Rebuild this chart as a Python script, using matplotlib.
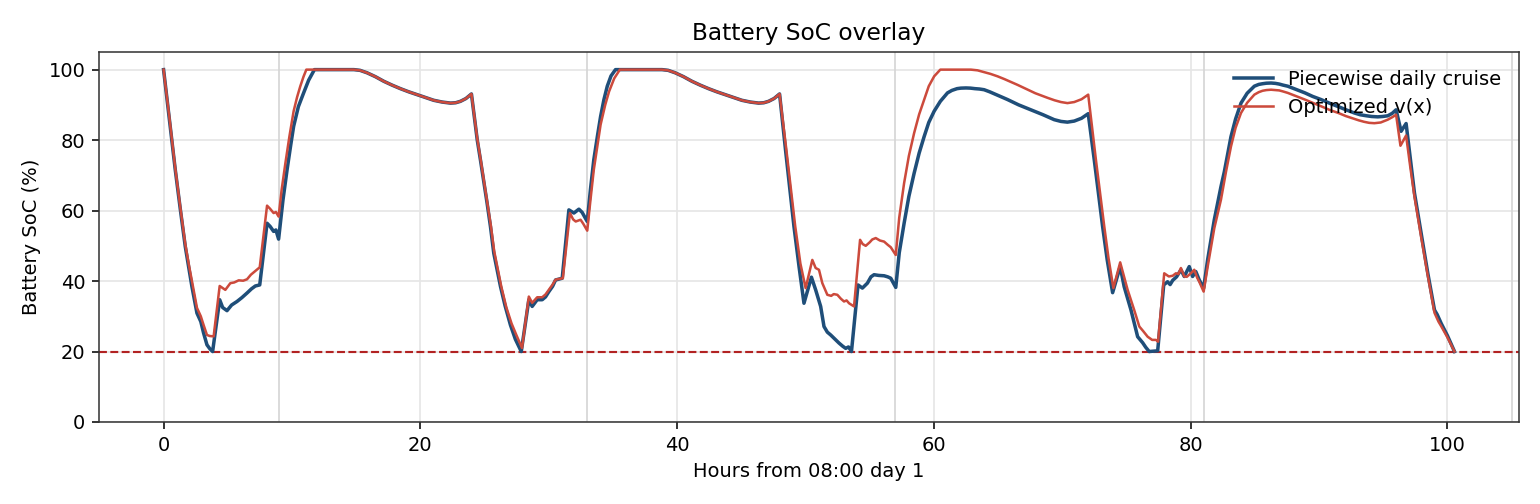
import matplotlib
matplotlib.use("Agg")
import matplotlib.pyplot as plt

# hours from 08:00 day 1 and battery SoC (%) for the piecewise daily cruise
t_piecewise = [0, 0.45, 0.91, 1.3, 1.69, 2.0, 2.21, 2.6, 2.9, 3.12, 3.38, 3.6, 3.82,
               4.37, 4.6, 4.94, 5.3, 5.72, 6.1, 6.5, 6.85, 7.15, 7.49, 8.06, 8.3, 8.57, 8.75, 8.96,
               9.3, 9.62, 9.9, 10.13, 10.5, 10.91, 11.3, 11.75, 14.82, 15.3, 15.85, 16.5, 17.15, 17.8,
               18.45, 19.1, 19.75, 20.4, 21.04, 21.7, 22.35, 22.75, 23.12, 23.55, 23.98,
               24.43, 24.68, 25.2, 25.46, 25.72, 26.24, 26.6, 27.02, 27.4, 27.86,
               28.45, 28.71, 29.1, 29.49, 29.75, 30.01, 30.3, 30.53, 31.05, 31.57, 31.96, 32.35, 32.6, 33.0,
               33.25, 33.51, 33.8, 34.04, 34.3, 34.56, 34.85, 35.2, 38.82, 39.3, 39.85, 40.5, 41.15, 41.8,
               42.45, 43.1, 43.75, 44.4, 45.04, 45.7, 46.35, 46.75, 47.12, 47.55, 47.98,
               48.45, 49.1, 49.5, 49.88, 50.46, 50.79, 51.18, 51.44, 51.7, 51.96, 52.3, 52.61, 52.9, 53.13,
               53.35, 53.58, 54.09, 54.43, 54.82, 55.1, 55.34, 55.7, 56.12, 56.4, 56.64, 57.03,
               57.3, 57.68, 58.05, 58.46, 58.85, 59.24, 59.6, 60.02, 60.5, 61.06, 61.4, 61.8, 62.1, 62.5,
               62.85, 63.2, 63.55, 63.91, 64.35, 64.8, 65.3, 65.74, 66.6, 67.55, 68.5, 69.37, 69.9, 70.4,
               70.93, 71.5, 72.02,
               72.49, 73.14, 73.5, 73.92, 74.51, 74.82, 75.35, 75.87, 76.26, 76.5, 76.77, 77.43,
               77.9, 78.2, 78.4, 78.6, 78.9, 79.24, 79.5, 79.89, 80.15, 80.4, 80.67, 81.01,
               81.32, 81.84, 82.36, 82.62, 83.14, 83.5, 83.92, 84.4, 84.96, 85.3, 85.6, 85.9, 86.26,
               86.6, 86.9, 87.2, 87.56, 88.2, 88.9, 89.5, 90.16, 90.8, 91.5, 92.1, 92.75, 93.2, 93.7,
               94.1, 94.57, 94.95, 95.35, 95.7, 96.0, 96.39, 96.78, 97.1, 97.43, 97.95,
               98.47, 98.99, 99.2, 99.51, 100.0, 100.55]
soc_piecewise = [100, 86, 71.6, 60.5, 49.8, 43, 38.4, 30.9, 28.5, 25.2, 21.9, 20.8, 20,
                 34.7, 32.5, 31.6, 33.2, 34.2, 35.3, 36.6, 37.8, 38.6, 38.9, 56.4, 55.5, 54.1, 54.5, 51.9,
                 63, 71.6, 78.5, 83.9, 89.5, 93.4, 97, 100, 100, 99.8, 99.1, 98, 96.7, 95.6,
                 94.6, 93.7, 92.9, 92.1, 91.3, 90.8, 90.5, 90.6, 91, 91.8, 93.1,
                 80.1, 74.4, 62.1, 55.5, 47.9, 38.5, 33, 27.5, 23.5, 20,
                 34.7, 32.8, 34.7, 34.7, 35.5, 37, 38.5, 40.3, 40.8, 60.2, 59.3, 60.4, 59.5, 56.9,
                 66, 74.4, 81.3, 86.7, 91.5, 95.3, 98.2, 100, 100, 99.8, 99.1, 98, 96.7, 95.6,
                 94.6, 93.7, 92.9, 92.1, 91.3, 90.8, 90.5, 90.6, 91, 91.8, 93.1,
                 77, 55.5, 44, 33.7, 41.1, 37.5, 32.8, 27.1, 25.5, 24.7, 23.5, 22.4, 21.5, 20.9,
                 21.3, 20, 38.9, 38, 39.4, 41.2, 41.8, 41.6, 41.5, 41.2, 40.8, 38.2,
                 48, 56.4, 64, 70.6, 76.3, 81, 85, 88.2, 91, 93.4, 94.1, 94.6, 94.75, 94.8,
                 94.75, 94.6, 94.5, 94.3, 93.7, 93, 92.2, 91.5, 90, 88.6, 87.2, 85.8, 85.3, 85.1,
                 85.4, 86.2, 87.5,
                 74.4, 55.5, 46, 36.7, 44.1, 38.4, 31.8, 24.2, 22.5, 21.2, 20, 20.2,
                 38.9, 39.8, 39, 40.2, 41.2, 43.2, 41.3, 44.1, 41.3, 42.7, 40.3, 38,
                 46, 57.4, 66.8, 71, 81, 86, 90.5, 93.3, 95.3, 95.8, 96, 96.15, 96.2,
                 96.1, 95.9, 95.6, 95.3, 94.4, 93.4, 92.4, 91.5, 90.5, 89.5, 88.6, 87.7, 87.2, 86.9,
                 86.7, 86.6, 86.7, 86.9, 87.6, 88.6, 82.5, 84.7, 75, 65, 53.6,
                 42.2, 31.8, 30.5, 28, 24.5, 20]

# same for the optimized v(x) profile
t_optimized = [0, 0.45, 0.91, 1.3, 1.69, 2.0, 2.21, 2.6, 2.9, 3.12, 3.38, 3.6, 3.9,
               4.37, 4.81, 5.2, 5.5, 5.85, 6.2, 6.5, 6.8, 7.1, 7.49, 8.06, 8.3, 8.57, 8.75, 8.96,
               9.2, 9.49, 9.8, 10.13, 10.4, 10.65, 10.9, 11.12, 14.82, 15.3, 15.85, 16.5, 17.15, 17.8,
               18.45, 19.1, 19.75, 20.4, 21.04, 21.7, 22.35, 22.75, 23.12, 23.55, 23.98,
               24.43, 24.7, 25.2, 25.5, 25.75, 26.3, 26.7, 27.1, 27.5, 27.92,
               28.45, 28.71, 29.1, 29.49, 29.75, 30.01, 30.3, 30.53, 31.1, 31.65, 31.9, 32.1, 32.48, 32.7, 33.0,
               33.25, 33.51, 33.8, 34.04, 34.4, 34.7, 35.1, 35.54, 38.82, 39.3, 39.85, 40.5, 41.15, 41.8,
               42.45, 43.1, 43.75, 44.4, 45.04, 45.7, 46.35, 46.75, 47.12, 47.55, 47.98,
               48.5, 49.2, 49.6, 50.01, 50.53, 50.79, 51.05, 51.31, 51.7, 52.0, 52.2, 52.48, 52.75, 53.0,
               53.2, 53.39, 53.6, 53.78, 54.25, 54.45, 54.69, 55.0, 55.2, 55.47, 55.8, 56.12, 56.4, 56.64, 57.03,
               57.3, 57.68, 58.05, 58.46, 58.85, 59.24, 59.6, 60.02, 60.5, 62.88, 63.4, 63.9, 64.4, 64.96,
               65.5, 66.0, 66.5, 67.03, 67.9, 68.85, 69.4, 69.9, 70.4, 70.93, 71.5, 72.02,
               72.62, 73.27, 73.6, 73.98, 74.51, 75.09, 75.6, 76.0, 76.3, 76.65, 77.0, 77.3, 77.46,
               77.94, 78.3, 78.6, 78.85, 79.05, 79.24, 79.5, 79.7, 79.89, 80.1, 80.28, 80.5, 80.67, 81.01,
               81.32, 81.84, 82.36, 82.75, 83.14, 83.5, 83.92, 84.4, 84.96, 85.3, 85.6, 85.9, 86.26,
               86.6, 86.9, 87.2, 87.56, 88.2, 88.9, 89.5, 90.16, 90.8, 91.5, 92.1, 92.75, 93.1, 93.5,
               93.9, 94.31, 94.8, 95.35, 95.7, 96.0, 96.34, 96.78, 97.1, 97.43, 97.95,
               98.47, 98.99, 99.3, 99.51, 100.0, 100.55]
soc_optimized = [100, 86.5, 72, 61, 50.5, 44, 40, 32.4, 30, 27.5, 24.7, 24.4, 24.3,
                 38.6, 37.5, 39.4, 39.6, 40.2, 40.1, 40.5, 41.8, 42.7, 43.9, 61.4, 60.5, 59.3, 59.6, 58.3,
                 66, 73.5, 81, 88.2, 92.2, 95.3, 98, 100, 100, 99.8, 99.1, 98, 96.7, 95.6,
                 94.6, 93.7, 92.9, 92.1, 91.3, 90.8, 90.5, 90.6, 91, 91.8, 93.1,
                 80.5, 74.4, 62.5, 55.5, 48.5, 38.5, 32.5, 28, 24.5, 21,
                 35.6, 33.8, 35.4, 35.4, 36.2, 37.5, 39, 40.4, 40.8, 59.3, 57.5, 56.9, 57.4, 56.2, 54.3,
                 63, 71.6, 78.5, 84.4, 90, 93.8, 97.5, 100, 100, 99.8, 99.1, 98, 96.7, 95.6,
                 94.6, 93.7, 92.9, 92.1, 91.3, 90.8, 90.5, 90.6, 91, 91.8, 93.1,
                 77.5, 55.5, 45, 38, 46, 43.7, 43.2, 39.4, 36.1, 35.8, 36.3, 36.1, 35, 34.2,
                 34.5, 33.7, 33.2, 32.8, 51.7, 50.5, 50, 51, 51.8, 52.2, 51.5, 51.2, 50.3, 49.6, 47.4,
                 58, 67.8, 75.5, 82, 87.3, 91.5, 95.3, 98.1, 100, 100, 99.8, 99.3, 98.8, 98.1,
                 97.3, 96.5, 95.7, 94.8, 93.3, 92, 91.3, 90.8, 90.5, 90.8, 91.6, 92.9,
                 74.4, 55.5, 46.5, 38, 45.3, 37.5, 31.8, 27.1, 25.8, 24.2, 23.3, 23.3, 22.8,
                 42.2, 41.3, 41.5, 42.2, 42, 43.7, 41.3, 41.2, 41.8, 42.5, 43.2, 41, 39.8, 37,
                 44, 55, 63.1, 71, 78.2, 83.5, 87.7, 90.6, 92.9, 93.6, 94, 94.2, 94.3,
                 94.2, 94.1, 93.8, 93.4, 92.5, 91.5, 90.6, 89.6, 88.6, 87.7, 86.8, 86, 85.6, 85.2,
                 84.9, 84.8, 85, 85.8, 86.5, 87.2, 78.4, 81.3, 72.5, 64, 52.5,
                 41.5, 31, 28.5, 27.2, 24, 20]

day_marks = [9, 33, 57, 81, 105]   # light vertical markers
soc_floor = 20

fig, ax = plt.subplots(figsize=(11, 3.6), dpi=140)
fig.subplots_adjust(left=0.0643, right=0.9864, top=0.8968, bottom=0.1627)

ax.grid(True, color='#e6e6e6', linewidth=0.9)
ax.set_axisbelow(True)
for h in day_marks:
    ax.axvline(h, color='#d6d6d6', linewidth=0.9, zorder=1)

ax.plot(t_piecewise, soc_piecewise, color='#1f4e79', linewidth=1.8, label='Piecewise daily cruise', zorder=3)
ax.plot(t_optimized, soc_optimized, color='#cc4a3c', linewidth=1.3, label='Optimized v(x)', zorder=4)
ax.axhline(soc_floor, color='#b22222', linestyle='--', linewidth=1.1, zorder=2)

t_min = min(t_piecewise + t_optimized)
t_max = max(t_piecewise + t_optimized)
pad = 0.05 * (t_max - t_min)
ax.set_xlim(t_min - pad, t_max + pad)
ax.set_ylim(0, 105)

for side in ['left', 'right', 'top', 'bottom']:
    ax.spines[side].set_color('#333333')

ax.set_title('Battery SoC overlay', fontsize=12)
ax.set_xlabel('Hours from 08:00 day 1')
ax.set_ylabel('Battery SoC (%)')
ax.legend(loc='upper right', frameon=False)

plt.savefig('out.png', dpi=140)
plt.close()
